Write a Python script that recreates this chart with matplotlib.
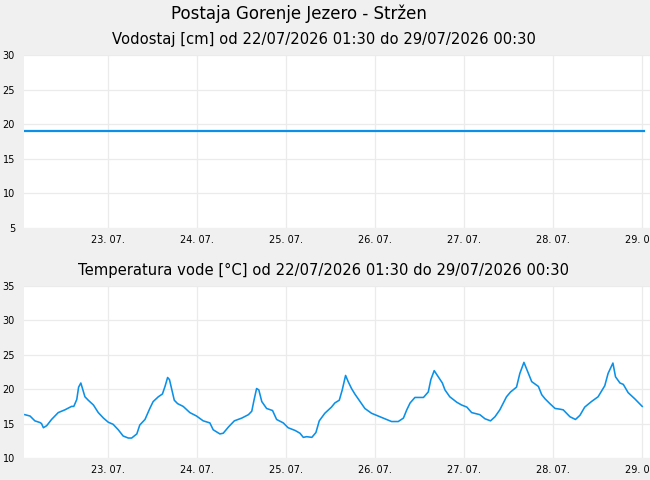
import numpy as np
import pandas as pd
import matplotlib
matplotlib.use("Agg")
from matplotlib import pyplot as plt
import matplotlib.dates as mdates

# hours after 22/07/2026 00:00
level_hours = [1.5, 168.5]
level_cm = [19.0, 19.0]

temp_hours = [1.5, 2.9, 4.2, 5.6, 6.0, 6.5, 7.4, 8.7, 10.5, 12.3, 14.1, 14.7, 15.5, 16.0,
              16.6, 17.1, 17.7, 18.6, 20.0, 21.3, 22.7, 24.0, 25.3, 26.7, 28.0, 29.4,
              30.3, 31.7, 32.5, 33.9, 35.2, 36.1, 37.5, 38.6, 39.3, 40.0, 40.5, 41.1,
              41.8, 42.7, 44.2, 46.0, 47.8, 49.6, 51.4, 52.3, 54.1, 55.0, 56.4, 58.0,
              60.0, 61.8, 62.7, 63.3, 64.0, 64.6, 65.4, 66.7, 68.3, 69.4, 71.2, 72.5,
              74.4, 75.7, 76.6, 77.5, 78.9, 80.0, 80.9, 82.4, 84.2, 85.1, 86.3, 87.1,
              88.0, 88.7, 89.6, 90.5, 91.9, 93.2, 95.0, 96.8, 98.6, 100.4, 102.2, 103.6,
              104.5, 105.4, 106.7, 109.0, 110.3, 111.0, 111.9, 113.0, 114.1, 114.8,
              116.1, 118.0, 119.3, 120.7, 122.0, 124.2, 125.6, 127.1, 128.3, 129.6,
              131.4, 132.5, 134.1, 135.0, 136.1, 137.0, 138.2, 140.0, 140.9, 141.8,
              143.1, 144.5, 145.8, 146.7, 148.5, 150.0, 151.2, 152.5, 154.3, 156.1,
              157.9, 158.8, 160.1, 160.8, 162.0, 162.9, 164.2, 166.0, 168.0]
temp_c = [16.3, 16.1, 15.4, 15.15, 15.0, 14.4, 14.7, 15.6, 16.6, 17.0, 17.5, 17.5, 18.5, 20.3,
          20.9, 20.0, 18.9, 18.4, 17.7, 16.6, 15.8, 15.2, 14.9, 14.1, 13.2, 12.9,
          12.9, 13.5, 14.8, 15.6, 17.2, 18.2, 18.9, 19.3, 20.4, 21.7, 21.4, 20.0,
          18.4, 17.9, 17.5, 16.6, 16.1, 15.4, 15.1, 14.1, 13.5, 13.6, 14.5, 15.4,
          15.8, 16.3, 16.8, 18.4, 20.1, 19.9, 18.2, 17.2, 16.9, 15.6, 15.1, 14.4,
          14.0, 13.6, 13.0, 13.1, 13.0, 13.7, 15.4, 16.5, 17.4, 18.0, 18.4, 19.9,
          22.0, 21.1, 20.1, 19.3, 18.2, 17.2, 16.5, 16.1, 15.7, 15.3, 15.3, 15.8,
          17.0, 18.0, 18.8, 18.8, 19.6, 21.4, 22.7, 21.8, 20.9, 19.9,
          18.9, 18.1, 17.7, 17.4, 16.6, 16.3, 15.7, 15.4, 16.0, 17.0,
          18.9, 19.6, 20.3, 22.3, 23.9, 22.7, 21.1, 20.4, 19.2, 18.6,
          17.9, 17.2, 17.1, 17.0, 16.0, 15.6, 16.2, 17.4, 18.2, 18.9,
          20.5, 22.3, 23.8, 21.8, 20.9, 20.7, 19.5, 18.6, 17.5]

start = pd.Timestamp("2026-07-22 00:00")
level_t = start + pd.to_timedelta(level_hours, unit="h")
temp_t = start + pd.to_timedelta(temp_hours, unit="h")

bg = "#f0f0f0"
blue = "#0a90e8"
grid_col = "#ebebeb"
x_lo = start + pd.Timedelta(hours=1.27)
x_hi = start + pd.Timedelta(hours=170.1)

fig = plt.figure(figsize=(6.5, 4.8), dpi=100, facecolor=bg)
ax1 = fig.add_axes([24 / 650, 1 - 228 / 480, 1 - 24 / 650, 173 / 480])
ax2 = fig.add_axes([24 / 650, 1 - 458 / 480, 1 - 24 / 650, 172 / 480])


def style(ax, lo, hi):
    ax.set_facecolor("white")
    for s in ax.spines.values():
        s.set_visible(False)
    ax.set_xlim(x_lo, x_hi)
    ax.set_ylim(lo, hi)
    ax.set_yticks(np.arange(lo, hi + 1, 5))
    ax.xaxis.set_major_locator(mdates.DayLocator())
    ax.xaxis.set_major_formatter(mdates.DateFormatter("%d. %m."))
    ax.tick_params(length=0, labelsize=7, colors="black")
    ax.tick_params(axis="y", pad=6.5)
    ax.tick_params(axis="x", pad=5)
    ax.grid(True, color=grid_col, linewidth=0.9)
    ax.set_axisbelow(True)


ax1.plot(level_t, level_cm, color=blue, linewidth=1.6)
style(ax1, 5, 30)
ax2.plot(temp_t, temp_c, color=blue, linewidth=1.15)
style(ax2, 10, 35)

fig.text(0.46, 1 - 14 / 480, "Postaja Gorenje Jezero - Stržen", ha="center", va="center", fontsize=12)
fig.text(0.498, 1 - 39.5 / 480, "Vodostaj [cm] od 22/07/2026 01:30 do 29/07/2026 00:30",
         ha="center", va="center", fontsize=10.6)
fig.text(0.498, 1 - 270 / 480, "Temperatura vode [°C] od 22/07/2026 01:30 do 29/07/2026 00:30",
         ha="center", va="center", fontsize=10.6)

plt.savefig("out.png", dpi=100, facecolor=bg)
